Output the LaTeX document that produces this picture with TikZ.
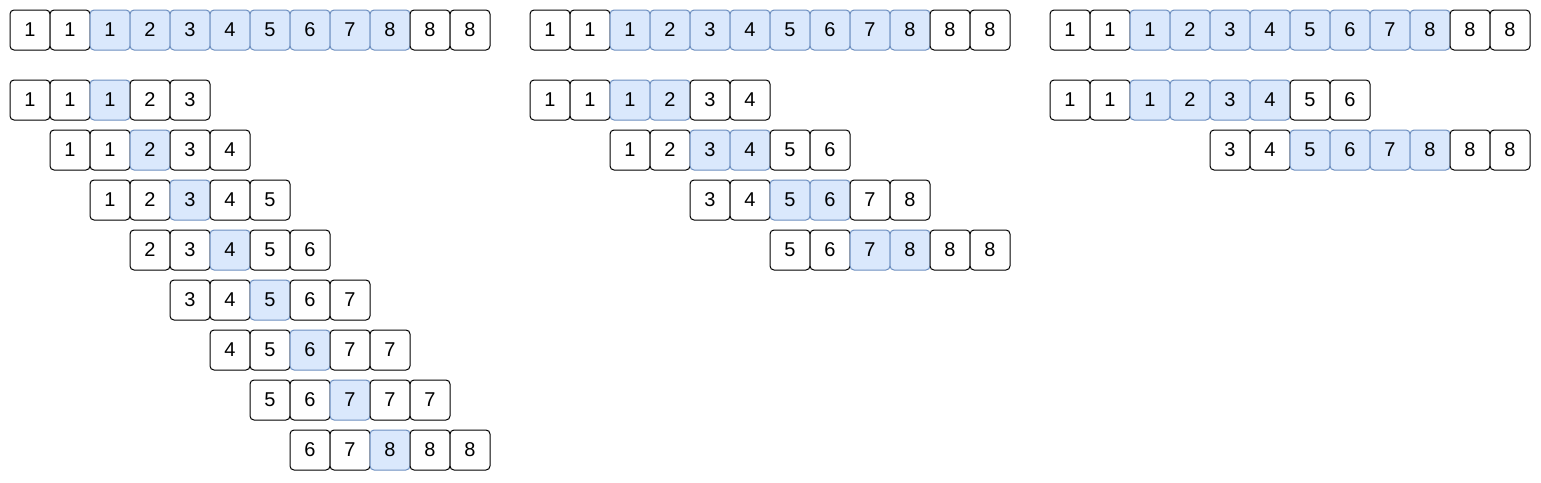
\documentclass[tikz,border=0pt]{standalone}
\usepackage{fontspec}
\setmainfont{Liberation Sans}
\definecolor{hlfill}{HTML}{DAE8FC}
\definecolor{hldraw}{HTML}{6C8EBF}
\tikzset{
  cell/.style={draw=black, rounded corners=3pt, line width=0.75pt, minimum width=30pt, minimum height=30pt, inner sep=0pt, font=\fontsize{15}{18}\selectfont, fill=white},
  plain/.style={},
  hl/.style={fill=hlfill, draw=hldraw},
}
% #1 name, #2 left x (px), #3 top y (px), #4 values, #5 first hl index, #6 last hl index
\newcommand\cellrow[6]{%
  \foreach \v [count=\i from 0] in {#4} {%
    \ifnum\i<#5\relax \def\st{plain}\else\ifnum\i>#6\relax \def\st{plain}\else\def\st{hl}\fi\fi
    \node[cell,\st] (#1-\i) at ({#2+40*\i+20},{#3+20}) {\v};
  }%
}
\begin{document}
\begin{tikzpicture}[x=0.75pt,y=-0.75pt]
\path[use as bounding box] (0,0) rectangle (1541,482);
% top arrays
\cellrow{ta}{10}{10}{1,1,1,2,3,4,5,6,7,8,8,8}{2}{9}
\cellrow{tb}{530}{10}{1,1,1,2,3,4,5,6,7,8,8,8}{2}{9}
\cellrow{tc}{1050}{10}{1,1,1,2,3,4,5,6,7,8,8,8}{2}{9}
% left panel
\cellrow{a0}{10}{80}{1,1,1,2,3}{2}{2}
\cellrow{a1}{50}{130}{1,1,2,3,4}{2}{2}
\cellrow{a2}{90}{180}{1,2,3,4,5}{2}{2}
\cellrow{a3}{130}{230}{2,3,4,5,6}{2}{2}
\cellrow{a4}{170}{280}{3,4,5,6,7}{2}{2}
\cellrow{a5}{210}{330}{4,5,6,7,7}{2}{2}
\cellrow{a6}{250}{380}{5,6,7,7,7}{2}{2}
\cellrow{a7}{290}{430}{6,7,8,8,8}{2}{2}
% middle panel
\cellrow{b0}{530}{80}{1,1,1,2,3,4}{2}{3}
\cellrow{b1}{610}{130}{1,2,3,4,5,6}{2}{3}
\cellrow{b2}{690}{180}{3,4,5,6,7,8}{2}{3}
\cellrow{b3}{770}{230}{5,6,7,8,8,8}{2}{3}
% right panel
\cellrow{c0}{1050}{80}{1,1,1,2,3,4,5,6}{2}{5}
\cellrow{c1}{1210}{130}{3,4,5,6,7,8,8,8}{2}{5}
\end{tikzpicture}
\end{document}
